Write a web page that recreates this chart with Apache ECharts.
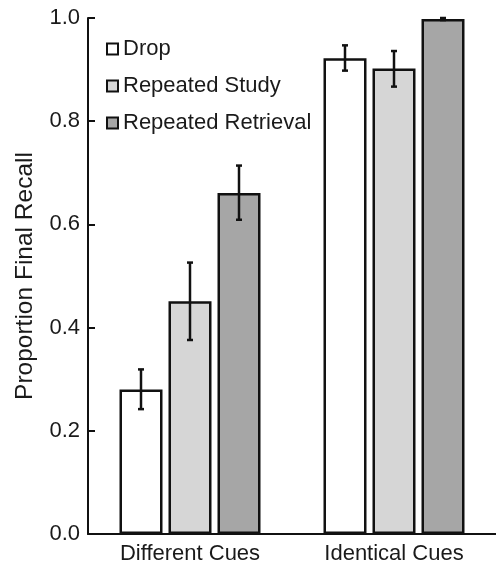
<!DOCTYPE html>
<html>
<head>
<meta charset="utf-8">
<script src="https://cdn.jsdelivr.net/npm/echarts@6/dist/echarts.min.js"></script>
<style>
html,body{margin:0;padding:0;background:#fff;}
#chart{width:496px;height:565px;}
</style>
</head>
<body>
<div id="chart"></div>
<script>
var categories = ['Different Cues', 'Identical Cues'];
var seriesNames = ['Drop', 'Repeated Study', 'Repeated Retrieval'];
var dropValues = [0.28, 0.922];
var studyValues = [0.451, 0.902];
var retrievalValues = [0.661, 0.998];
var dropErrLow = [0.242, 0.898];
var dropErrHigh = [0.319, 0.947];
var studyErrLow = [0.376, 0.867];
var studyErrHigh = [0.526, 0.936];
var retrievalErrLow = [0.609, 0.996];
var retrievalErrHigh = [0.714, 1.0];
var yTicks = [0.0, 0.2, 0.4, 0.6, 0.8, 1.0];

var FONT = "'Liberation Sans', Arial, sans-serif";
var TEXT = '#1a1a1a';
var colors = ['#ffffff', '#d6d6d6', '#a6a6a6'];
var values = [dropValues, studyValues, retrievalValues];
var lows = [dropErrLow, studyErrLow, retrievalErrLow];
var highs = [dropErrHigh, studyErrHigh, retrievalErrHigh];

var BAR_W = 43, BAR_GAP = 6;

var errData = [];
for (var s = 0; s < 3; s++) {
  for (var c = 0; c < categories.length; c++) {
    errData.push([c, s, lows[s][c], highs[s][c]]);
  }
}

var series = [];
for (var i = 0; i < 3; i++) {
  series.push({
    name: seriesNames[i],
    type: 'bar',
    data: values[i],
    barWidth: BAR_W,
    barGap: (BAR_GAP / BAR_W * 100) + '%',
    itemStyle: { color: colors[i], borderColor: '#111', borderWidth: 2.5 },
    emphasis: { disabled: true },
    z: 2
  });
}
series.push({
  type: 'custom',
  name: 'err',
  data: errData,
  z: 5,
  silent: true,
  renderItem: function (params, api) {
    var c = api.value(0), s = api.value(1);
    var off = (s - 1) * (BAR_W + BAR_GAP);
    var pLo = api.coord([c, api.value(2)]);
    var pHi = api.coord([c, api.value(3)]);
    var x = pLo[0] + off;
    var cap = 3;
    var st = { stroke: '#111', lineWidth: 2.5 };
    return {
      type: 'group',
      children: [
        { type: 'line', shape: { x1: x, y1: pLo[1], x2: x, y2: pHi[1] }, style: st },
        { type: 'line', shape: { x1: x - cap, y1: pLo[1], x2: x + cap, y2: pLo[1] }, style: st },
        { type: 'line', shape: { x1: x - cap, y1: pHi[1], x2: x + cap, y2: pHi[1] }, style: st }
      ]
    };
  }
});

var chart = echarts.init(document.getElementById('chart'));
chart.setOption({
  animation: false,
  backgroundColor: '#fff',
  textStyle: { fontFamily: FONT },
  grid: { left: 88, top: 18, width: 414, height: 517, containLabel: false },
  legend: {
    data: seriesNames,
    orient: 'vertical',
    left: 101,
    top: 33,
    icon: 'rect',
    itemWidth: 11,
    itemHeight: 11,
    itemGap: 15,
    selectedMode: false,
    itemStyle: { borderColor: '#111', borderWidth: 2 },
    textStyle: { fontFamily: FONT, fontSize: 22, color: TEXT }
  },
  xAxis: {
    type: 'category',
    data: categories,
    axisLine: { lineStyle: { color: '#111', width: 2 } },
    axisTick: { show: false },
    axisLabel: { fontFamily: FONT, fontSize: 22, color: TEXT, margin: 9 }
  },
  yAxis: {
    type: 'value',
    min: yTicks[0],
    max: yTicks[yTicks.length - 1],
    interval: 0.2,
    name: 'Proportion Final Recall',
    nameLocation: 'middle',
    nameGap: 50,
    nameTextStyle: { fontFamily: FONT, fontSize: 24.5, color: TEXT },
    axisLine: { show: true, lineStyle: { color: '#111', width: 2 } },
    axisTick: { show: true, inside: true, length: 7, lineStyle: { color: '#111', width: 2 } },
    splitLine: { show: false },
    axisLabel: {
      fontFamily: FONT, fontSize: 22, color: TEXT, margin: 8,
      formatter: function (v) { return v.toFixed(1); }
    }
  },
  series: series
});
</script>
</body>
</html>
